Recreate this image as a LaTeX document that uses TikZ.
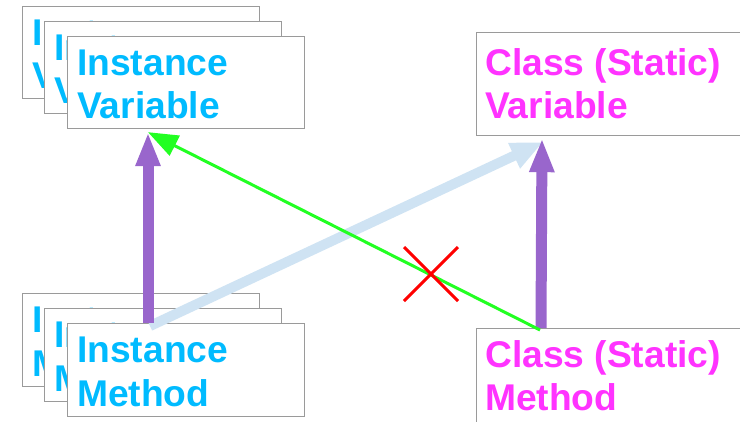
\documentclass[tikz,border=0pt]{standalone}
\usepackage{fontspec}
\setmainfont{Liberation Sans}
\usetikzlibrary{arrows.meta,calc}
\definecolor{cyantxt}{HTML}{00BBFF}
\definecolor{magtxt}{HTML}{FF33FF}
\definecolor{boxgray}{HTML}{9A9A9A}
\definecolor{purp}{HTML}{9966CC}
\definecolor{lblue}{HTML}{CFE3F3}
\definecolor{lgreen}{HTML}{22FF22}
\tikzset{
  card/.style={draw=boxgray, line width=1.2pt, fill=white, rectangle, inner sep=0pt, anchor=north west},
  lefttxt/.style={anchor=base west, inner sep=0pt, text=cyantxt, font=\fontsize{37.2}{43}\selectfont\bfseries},
  righttxt/.style={anchor=base west, inner sep=0pt, text=magtxt, font=\fontsize{37.2}{43}\selectfont\bfseries},
  purparrow/.style={draw=purp, line width=11pt, -{Triangle[width=23pt,length=34pt]}},
  bluearrow/.style={draw=lblue, line width=10pt, -{Triangle[width=26pt,length=32pt]}},
  greenarrow/.style={draw=lgreen, line width=3pt, -{Triangle[width=22pt,length=30pt]}},
  redx/.style={draw=red, line width=3pt},
}
\begin{document}
\begin{tikzpicture}[x=1pt,y=-1pt]
\useasboundingbox (0,0) rectangle (740,421);
\clip (0,0) rectangle (740,421);
% instance variable stack
\foreach \i/\x/\y in {1/22/6, 2/44/21, 3/67/36}{
  \node[card, minimum width=237pt, minimum height=92pt] (iv\i) at (\x,\y) {};
  \node[lefttxt] (iva\i) at ($(iv\i.north west)+(10,39)$) {Instance};
  \node[lefttxt] (ivb\i) at ($(iv\i.north west)+(10,82)$) {Variable};
}
% instance method stack
\foreach \i/\x/\y in {1/22/293, 2/44/308, 3/67/323}{
  \node[card, minimum width=237pt, minimum height=93pt] (im\i) at (\x,\y) {};
  \node[lefttxt] (ima\i) at ($(im\i.north west)+(10,39)$) {Instance};
  \node[lefttxt] (imb\i) at ($(im\i.north west)+(10,83)$) {Method};
}
% class variable
\node[card, minimum width=290pt, minimum height=103pt] (cv) at (476,32) {};
\node[righttxt] (cva) at ($(cv.north west)+(9,43)$) {Class (Static)};
\node[righttxt] (cvb) at ($(cv.north west)+(9,86)$) {Variable};
% class method
\node[card, minimum width=290pt, minimum height=110pt] (cm) at (476,328) {};
\node[righttxt] (cma) at ($(cm.north west)+(9,39)$) {Class (Static)};
\node[righttxt] (cmb) at ($(cm.north west)+(9,82)$) {Method};
% connector end points
\coordinate (imtop) at ($(im3.north west)+(81,0)$);
\coordinate (ivbot) at ($(iv3.south west)+(81,3)$);
\coordinate (cmtop) at ($(cm.north west)+(65,0)$);
\coordinate (cvbot) at ($(cv.south west)+(66,2)$);
\coordinate (bluestart) at ($(im3.north west)+(83,3)$);
\coordinate (blueend) at ($(cv.south west)+(67,6)$);
\coordinate (greenstart) at ($(cm.north west)+(64,2)$);
\coordinate (xc) at (431,274);
% connectors
\draw[bluearrow] (bluestart) -- (blueend);
\draw[purparrow] (imtop) -- (ivbot);
\draw[purparrow] (cmtop) -- (cvbot);
\draw[greenarrow] (greenstart) -- (ivbot);
\draw[redx] ($(xc)+(-27,-27)$) -- ($(xc)+(27,27)$);
\draw[redx] ($(xc)+(27,-27)$) -- ($(xc)+(-27,27)$);
\end{tikzpicture}
\end{document}
